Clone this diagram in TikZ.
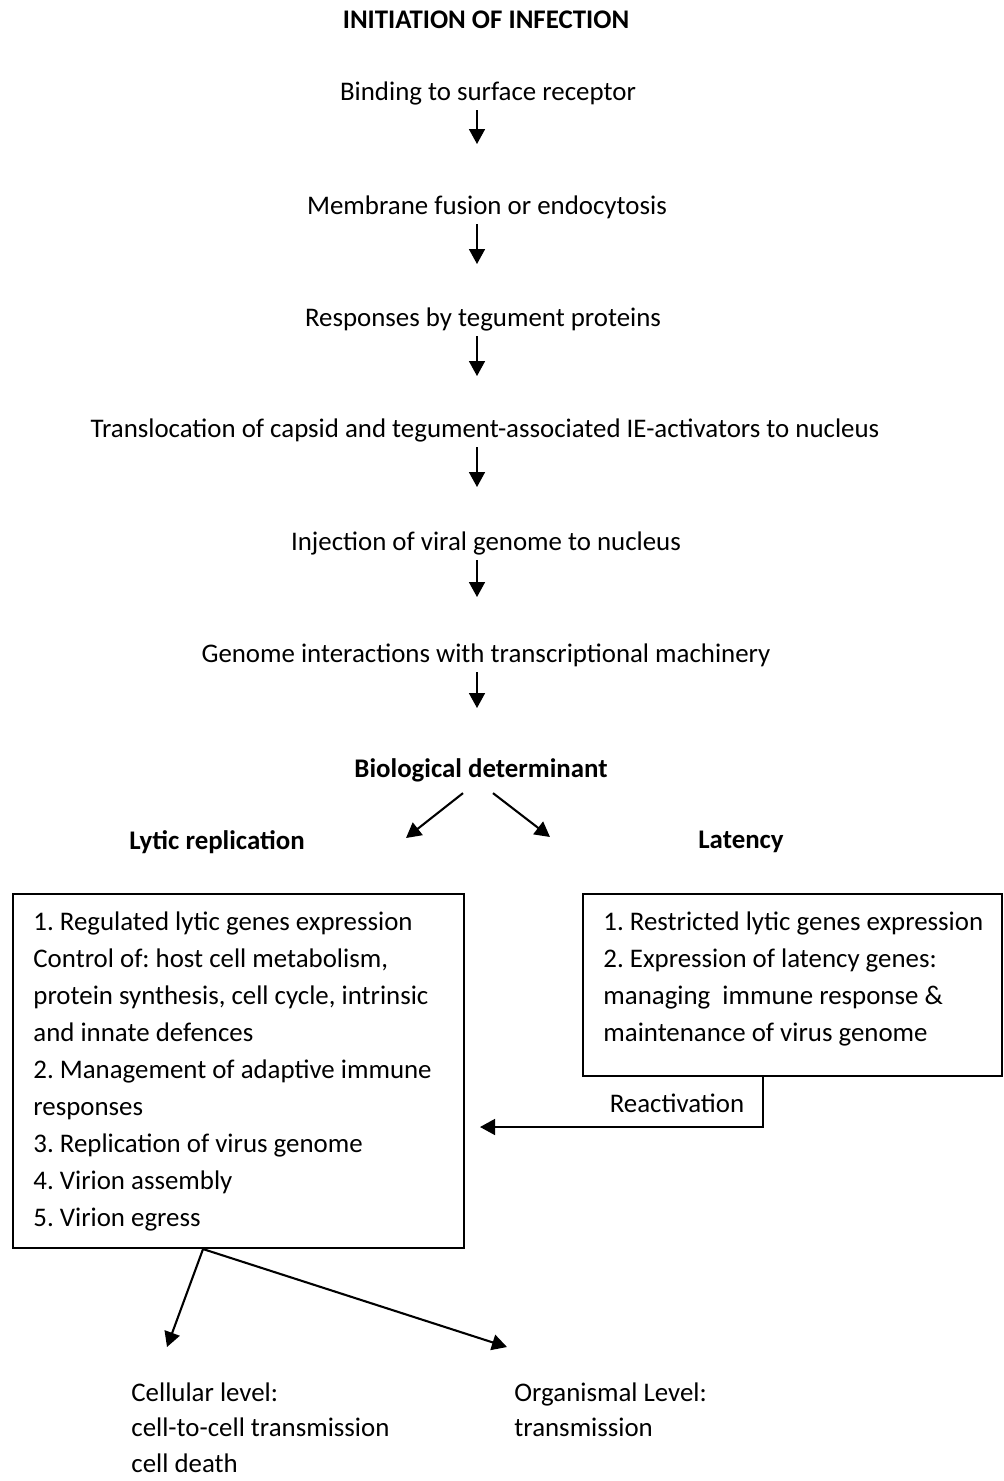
\documentclass[tikz,border=0pt]{standalone}
\usepackage{fontspec}
\setmainfont{Carlito}
\usetikzlibrary{arrows.meta}
\frenchspacing

\begin{document}
\begin{tikzpicture}[x=0.48pt,y=-0.48pt,
  font=\fontsize{12.9}{17.76}\selectfont,
  stage/.style={inner xsep=0pt,inner ysep=1.5pt,text height=9pt,text depth=3pt},
  head/.style={inner sep=0pt,font=\fontsize{12.9}{17.76}\selectfont\bfseries},
  box/.style={draw,line width=1pt,inner sep=0pt,anchor=north west},
  lines/.style={align=left,inner sep=0pt,anchor=north west},
  arr/.style={line width=1pt,-{Triangle[width=7.6pt,length=7.2pt]}}]
\useasboundingbox (0,0) rectangle (1003,1481);

% steps of the infection
\node[head] (title) at (486,20) {INITIATION OF INFECTION};
\node[stage] (s1) at (488,94) {Binding to surface receptor};
\node[stage] (s2) at (487,208) {Membrane fusion or endocytosis};
\node[stage] (s3) at (483,320) {Responses by tegument proteins};
\node[stage] (s4) at (485,431) {Translocation of capsid and tegument-associated IE-activators to nucleus};
\node[stage] (s5) at (486,544) {Injection of viral genome to nucleus};
\node[stage] (s6) at (486,656) {Genome interactions with transcriptional machinery};

\coordinate (axis) at (477,0);
\draw[arr] (s1.south -| axis) -- ++(0,34);
\draw[arr] (s2.south -| axis) -- ++(0,40);
\draw[arr] (s3.south -| axis) -- ++(0,40);
\draw[arr] (s4.south -| axis) -- ++(0,40);
\draw[arr] (s5.south -| axis) -- ++(0,37);
\draw[arr] (s6.south -| axis) -- ++(0,36);

\node[head] (det) at (481,770) {Biological determinant};
\node[head] (lytic) at (217,842) {Lytic replication};
\node[head] (latent) at (741,842) {Latency};

\coordinate (lytin) at (406,838);
\coordinate (latin) at (550,837);
\draw[arr] ([shift={(-18,11)}]det.south) -- (lytin);
\draw[arr] ([shift={(12,11)}]det.south) -- (latin);

% the two boxes
\node[box,minimum width=216.5pt,minimum height=169.9pt] (lytbox) at (12,893) {};
\node[lines] (lyttext) at ([shift={(21,16)}]lytbox.north west)
  {\rule{0pt}{10pt}1. Regulated lytic genes expression\\
   Control of: host cell metabolism,\\
   protein synthesis, cell cycle, intrinsic\\
   and innate defences\\
   2. Management of adaptive immune\\
   responses\\
   3. Replication of virus genome\\
   4. Virion assembly\\
   5. Virion egress};

\node[box,minimum width=201.1pt,minimum height=87.4pt] (latbox) at (582,893) {};
\node[lines] (lattext) at ([shift={(21,16)}]latbox.north west)
  {\rule{0pt}{10pt}1. Restricted lytic genes expression\\
   2. Expression of latency genes:\\
   managing\ \ immune response \&\\
   maintenance of virus genome};

% reactivation
\coordinate (react) at ([xshift=86.9pt]latbox.south west);
\coordinate (reactend) at (480,1127);
\draw[arr] (react) |- (reactend);
\node[stage] (reactlbl) at (677,1106) {Reactivation};

% outcomes
\coordinate (egress) at ([xshift=91.7pt]lytbox.south west);
\coordinate (cellin) at (167,1347);
\coordinate (orgin) at (507,1347);
\draw[arr] (egress) -- (cellin);
\draw[arr] (egress) -- (orgin);

\node[lines,font=\fontsize{12.9}{17}\selectfont] (cell) at (131,1380)
  {\rule{0pt}{10pt}Cellular level:\\ cell-to-cell transmission\\ cell death};
\node[lines,font=\fontsize{12.9}{17}\selectfont] (organism) at (514,1380)
  {\rule{0pt}{10pt}Organismal Level:\\ transmission};
\end{tikzpicture}
\end{document}
